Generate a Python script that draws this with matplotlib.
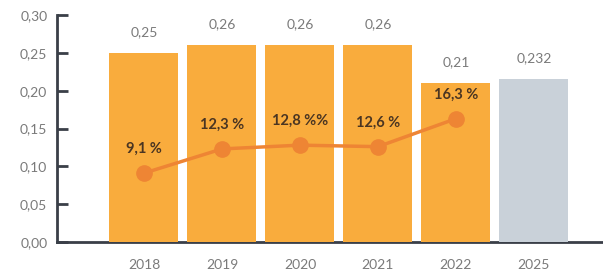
import numpy as np
import matplotlib.pyplot as plt

plt.rcParams['font.family'] = ['Lato', 'DejaVu Sans']

# -------------------------------
# Data
# -------------------------------
years = ["2018", "2019", "2020", "2021", "2022", "2025"]
bar_values = [0.25, 0.26, 0.26, 0.26, 0.21, 0.215]
bar_labels = ["0,25", "0,26", "0,26", "0,26", "0,21", "0,232"]
pct_values = [9.1, 12.3, 12.8, 12.6, 16.3]
pct_labels = ["9,1 %", "12,3 %", "12,8 %%", "12,6 %", "16,3 %"]

# -------------------------------
# Style
# -------------------------------
orange = "#F9AC3D"
grey_bar = "#C9D1D9"
line_col = "#EE8534"
text_grey = "#7A7A7A"
axis_col = "#3A3F48"

fig = plt.figure(figsize=(6.03, 2.73), dpi=100)
ax = fig.add_axes([57 / 603, 1 - 242 / 273, 1 - 57 / 603, (242 - 15) / 273])

x = np.arange(len(years))
colors = [orange] * 5 + [grey_bar]
ax.bar(x, bar_values, width=0.885, color=colors, zorder=3)

for xi, v, lab in zip(x, bar_values, bar_labels):
    ax.text(xi, v + 0.02, lab, ha="center", va="bottom",
            color=text_grey, fontsize=10)

# growth line (percent / 100 on the same axis)
xl = x[:len(pct_values)]
yl = np.array(pct_values) / 100
ax.plot(xl, yl, color=line_col, linewidth=2.5, marker="o",
        markersize=11, zorder=4)
for xi, yi, lab in zip(xl, yl, pct_labels):
    ax.text(xi, yi + 0.032, lab, ha="center", va="center",
            color="#4A3522", fontsize=10.5, fontweight="bold", zorder=5)

ax.set_ylim(0, 0.30)
ax.set_xlim(-1.115, 5.885)
ax.set_yticks(np.arange(0, 0.31, 0.05))
ax.set_yticklabels([f"{t:.2f}".replace(".", ",") for t in np.arange(0, 0.31, 0.05)])
ax.set_xticks(x)
ax.set_xticklabels(years)

for s in ["top", "right"]:
    ax.spines[s].set_visible(False)
ax.spines["left"].set_color(axis_col)
ax.spines["left"].set_linewidth(2)
ax.spines["bottom"].set_color(axis_col)
ax.spines["bottom"].set_linewidth(2)
ax.spines["bottom"].set_zorder(2)

ax.tick_params(axis="y", direction="in", length=8, width=2, color=axis_col,
               labelcolor=text_grey, labelsize=10, pad=7)
ax.tick_params(axis="x", length=0, labelcolor=text_grey, labelsize=10, pad=12)

fig.savefig("out.png", dpi=100)
